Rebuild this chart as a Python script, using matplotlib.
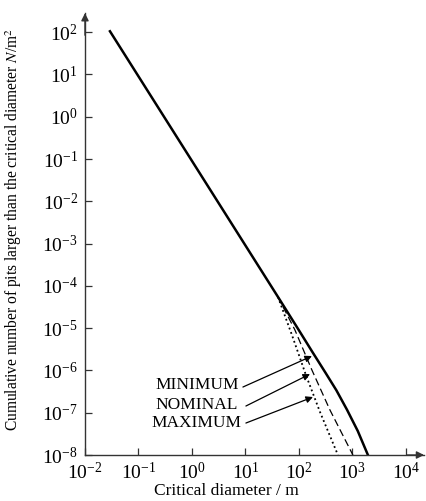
"""Cumulative pit density vs critical diameter (log-log), three cases."""

import matplotlib
matplotlib.use("Agg")
import matplotlib.pyplot as plt
from matplotlib.ticker import LogLocator, NullLocator

plt.rcParams["font.family"] = ["Liberation Serif", "DejaVu Serif"]
plt.rcParams["mathtext.fontset"] = "stix"

# curve values (diameter in m, density in N/m^2)
min_d = [0.0293, 40.5, 100, 178, 316, 501, 794, 1259, 1950]
min_n = [105, 5.5e-5, 8.9e-6, 2.75e-6, 8.7e-7, 3.4e-7, 1.17e-7, 3.7e-8, 1e-8]

nom_d = [40.5, 84, 175, 379, 1021]
nom_n = [5.5e-5, 9.1e-6, 1.02e-6, 1.17e-7, 1e-8]

max_d = [40.5, 74, 135, 247, 536]
max_n = [5.5e-5, 6.9e-6, 7.8e-7, 1.05e-7, 1e-8]

labels = ["MINIMUM", "NOMINAL", "MAXIMUM"]
label_pos = [(1.24, 4.5e-7), (1.24, 1.52e-7), (1.20, 5.7e-8)]
arrow_from = [(8.97, 4.05e-7), (10.2, 1.44e-7), (10.2, 5.7e-8)]
arrow_to = [(175, 2.19e-6), (161, 8.2e-7), (183, 2.35e-7)]

fig = plt.figure(figsize=(4.26, 5.01), dpi=100)
ax = fig.add_axes([0.1995, 0.0918, 0.796, 0.882])

ax.plot(min_d, min_n, color="black", lw=1.8, solid_joinstyle="round")
ax.plot(nom_d, nom_n, color="black", lw=0.9, ls=(0, (6, 3)))
ax.plot(max_d, max_n, color="black", lw=1.3, ls=(0, (1, 1.6)))

for txt, (x, y) in zip(labels, label_pos):
    ax.text(x, y, txt, ha="center", va="center", fontsize=12.5)
for p0, p1 in zip(arrow_from, arrow_to):
    ax.annotate("", xy=p1, xytext=p0,
                arrowprops=dict(arrowstyle="-|>", lw=0.9, color="black",
                                mutation_scale=10, shrinkA=0, shrinkB=0))

ax.set_xscale("log")
ax.set_yscale("log")
ax.set_xlim(1e-2, 10 ** 4.34)
ax.set_ylim(1e-8, 10 ** 2.45)
ax.xaxis.set_major_locator(LogLocator(base=10, numticks=10))
ax.yaxis.set_major_locator(LogLocator(base=10, numticks=15))
ax.xaxis.set_minor_locator(NullLocator())
ax.yaxis.set_minor_locator(NullLocator())
ax.tick_params(direction="in", length=5, width=0.9, colors="#333333",
               labelsize=14, labelcolor="black", pad=5)

for side in ("top", "right"):
    ax.spines[side].set_visible(False)
for side in ("left", "bottom"):
    ax.spines[side].set_color("#333333")
    ax.spines[side].set_linewidth(1.0)

# arrow heads at the axis ends
arrow_kw = dict(arrowstyle="-|>", color="#333333", lw=1.0,
                mutation_scale=11, shrinkA=0, shrinkB=0)
ax.annotate("", xy=(1.0, 0.0), xytext=(0.95, 0.0), xycoords="axes fraction",
            textcoords="axes fraction", annotation_clip=False,
            arrowprops=arrow_kw)
ax.annotate("", xy=(0.0, 1.0), xytext=(0.0, 0.95), xycoords="axes fraction",
            textcoords="axes fraction", annotation_clip=False,
            arrowprops=arrow_kw)

ax.set_xlabel("Critical diameter / m", fontsize=12.5)
ax.xaxis.set_label_coords(0.416, -0.064)
ax.set_ylabel("Cumulative number of pits larger than the critical diameter $N$/m$^2$",
              fontsize=11.2)
ax.yaxis.set_label_coords(-0.18, 0.51)

fig.savefig("out.png", dpi=100)
